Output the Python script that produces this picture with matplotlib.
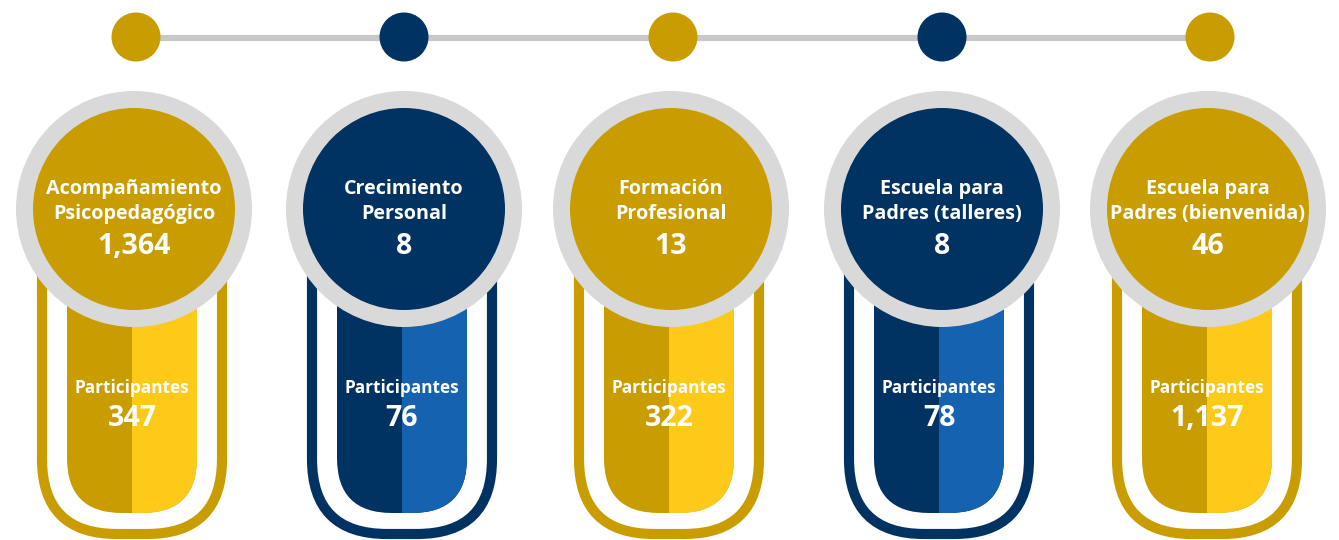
import matplotlib
matplotlib.use("Agg")
import matplotlib.pyplot as plt
from matplotlib.patches import Circle, FancyBboxPatch, Rectangle

# ---- data ----
titles_line1 = ["Acompañamiento", "Crecimiento", "Formación", "Escuela para", "Escuela para"]
titles_line2 = ["Psicopedagógico", "Personal", "Profesional", "Padres (talleres)", "Padres (bienvenida)"]
program_values = [1364, 8, 13, 8, 46]
participant_label = "Participantes"
participant_values = [347, 76, 322, 78, 1137]
themes = ["gold", "navy", "gold", "navy", "gold"]

# ---- style ----
GOLD = "#C99C00"
YELLOW = "#FECA1A"
NAVY = "#003262"
BLUE = "#1462B0"
RING = "#D9D9D9"
LINE = "#C8C8C8"
dark = {"gold": GOLD, "navy": NAVY}
light = {"gold": YELLOW, "navy": BLUE}

W, H = 1339, 540
fig = plt.figure(figsize=(W / 100, H / 100), dpi=100)
ax = fig.add_axes([0, 0, 1, 1])
ax.set_xlim(0, W)
ax.set_ylim(H, 0)
ax.set_aspect("equal")
ax.axis("off")

dot_x = [136, 404, 673, 942, 1210]
circ_x = [134, 404, 671, 942, 1208]
pill_x = [132, 402, 669, 939, 1207]
dot_y = 37
circ_y = 209

FONT = ["Open Sans", "DejaVu Sans"]

# connecting line and dots
ax.plot([dot_x[0], dot_x[-1]], [dot_y + 1, dot_y + 1], color=LINE, lw=4.5,
        solid_capstyle="butt", zorder=1)
for x, t in zip(dot_x, themes):
    ax.add_patch(Circle((x, dot_y), 24.5, color=dark[t], lw=0, zorder=2))

for i, t in enumerate(themes):
    px = pill_x[i]
    # outer U outline
    ow, otop, obot = 180, 160, 534
    ax.add_patch(FancyBboxPatch((px - ow / 2, otop), ow, obot - otop,
                                boxstyle="round,pad=0,rounding_size=75",
                                fc="white", ec=dark[t], lw=7.3, zorder=3))
    # inner pill
    iw, itop, ibot = 130, 230, 513
    pill = FancyBboxPatch((px - iw / 2, itop), iw, ibot - itop,
                          boxstyle="round,pad=0,rounding_size=55",
                          fc=dark[t], ec="none", lw=0, zorder=4)
    ax.add_patch(pill)
    rh = Rectangle((px, itop), iw / 2 + 2, ibot - itop + 2, fc=light[t],
                   ec="none", lw=0, zorder=5)
    ax.add_patch(rh)
    rh.set_clip_path(pill)
    # circle with ring
    cx = circ_x[i]
    ax.add_patch(Circle((cx, circ_y), 118, color=RING, lw=0, zorder=6))
    ax.add_patch(Circle((cx, circ_y), 101, color=dark[t], lw=0, zorder=7))

    ax.text(cx, 194, titles_line1[i], color="white", fontsize=14.2, fontweight="bold",
            ha="center", va="baseline", family=FONT, zorder=8)
    ax.text(cx, 219, titles_line2[i], color="white", fontsize=14.2, fontweight="bold",
            ha="center", va="baseline", family=FONT, zorder=8)
    ax.text(cx, 254, f"{program_values[i]:,}", color="white", fontsize=20.5,
            fontweight="bold", ha="center", va="baseline", family=FONT, zorder=8)
    ax.text(px, 393, participant_label, color="white", fontsize=12.4,
            fontweight="bold", ha="center", va="baseline", family=FONT, zorder=8)
    ax.text(px, 426, f"{participant_values[i]:,}", color="white", fontsize=20.5,
            fontweight="bold", ha="center", va="baseline", family=FONT, zorder=8)

fig.savefig("out.png", dpi=100, facecolor="white")
